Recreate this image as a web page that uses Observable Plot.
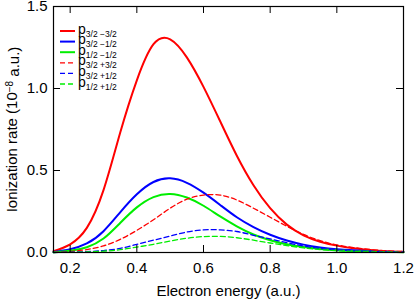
<!DOCTYPE html>
<html>
<head>
<meta charset="utf-8">
<script src="https://cdn.jsdelivr.net/npm/d3@7"></script>
<script src="https://cdn.jsdelivr.net/npm/@observablehq/plot@0.6"></script>
<style>
  html, body { margin: 0; padding: 0; background: #fff; }
  #chart { position: relative; width: 415px; height: 299px; }
</style>
</head>
<body>
<div id="chart"></div>
<script>
// Electron energy (a.u.)
const energy = [0.15, 0.2, 0.25, 0.3, 0.35, 0.4, 0.45, 0.5, 0.55, 0.6, 0.65, 0.7, 0.75, 0.8, 0.85, 0.9, 0.95, 1.0, 1.05, 1.1, 1.15, 1.2];
// Ionization rates (1e-8 a.u.)
const p32m32 = [0.008, 0.05, 0.15, 0.38, 0.73, 1.05, 1.27, 1.30, 1.19, 1.01, 0.80, 0.59, 0.41, 0.27, 0.17, 0.105, 0.066, 0.042, 0.026, 0.015, 0.008, 0.004];
const p32m12 = [0.003, 0.02, 0.055, 0.13, 0.245, 0.355, 0.43, 0.452, 0.425, 0.365, 0.29, 0.215, 0.155, 0.108, 0.073, 0.048, 0.031, 0.02, 0.013, 0.008, 0.005, 0.003];
const p12m12 = [0.002, 0.01, 0.032, 0.085, 0.18, 0.275, 0.338, 0.357, 0.335, 0.285, 0.22, 0.16, 0.11, 0.075, 0.05, 0.033, 0.021, 0.013, 0.008, 0.005, 0.003, 0.002];
const p32p32 = [0.001, 0.006, 0.018, 0.04, 0.08, 0.135, 0.20, 0.27, 0.325, 0.35, 0.35, 0.32, 0.27, 0.215, 0.16, 0.11, 0.072, 0.046, 0.03, 0.018, 0.01, 0.006];
const p32p12 = [0.0, 0.002, 0.005, 0.012, 0.025, 0.05, 0.075, 0.10, 0.125, 0.138, 0.138, 0.128, 0.105, 0.083, 0.06, 0.04, 0.025, 0.016, 0.01, 0.006, 0.004, 0.002];
const p12p12 = [0.0, 0.001, 0.003, 0.008, 0.017, 0.033, 0.05, 0.07, 0.087, 0.097, 0.098, 0.09, 0.075, 0.058, 0.042, 0.028, 0.018, 0.011, 0.007, 0.004, 0.002, 0.001];

const xTicks = [0.2, 0.4, 0.6, 0.8, 1.0, 1.2];
const yTicks = [0, 0.5, 1.0, 1.5];

const series = [
  {sub: "3/2 \u22123/2", values: p32m32, color: "#ff0000", dash: null},
  {sub: "3/2 \u22121/2", values: p32m12, color: "#0000ff", dash: null},
  {sub: "1/2 \u22121/2", values: p12m12, color: "#00ee00", dash: null},
  {sub: "3/2 +3/2", values: p32p32, color: "#ff0000", dash: "5,3"},
  {sub: "3/2 +1/2", values: p32p12, color: "#0000ff", dash: "5,3"},
  {sub: "1/2 +1/2", values: p12p12, color: "#00ee00", dash: "5,3"}
];

const W = 415, H = 299;
const mt = 6, mr = 12, mb = 47, ml = 53;
const innerH = H - mt - mb, innerW = W - ml - mr;
const tk = 7;
const FONT = "'Liberation Sans', Arial, sans-serif";

const lineMarks = series.map(s => Plot.line(
  energy.map((x, i) => ({x, y: s.values[i]})),
  {x: "x", y: "y", stroke: s.color, strokeWidth: s.dash ? 1.3 : 2, strokeDasharray: s.dash, curve: "natural"}
));

const chart = Plot.plot({
  width: W, height: H,
  marginTop: mt, marginRight: mr, marginBottom: mb, marginLeft: ml,
  style: {fontFamily: FONT, fontSize: "15px", color: "#000", background: "#fff", overflow: "visible"},
  x: {domain: [0.15, 1.2]},
  y: {domain: [0, 1.5]},
  marks: [
    ...lineMarks,
    Plot.frame({stroke: "#000", strokeWidth: 1.2}),
    Plot.ruleX(xTicks, {x: d => d, insetTop: innerH - tk, stroke: "#000"}),
    Plot.ruleX(xTicks, {x: d => d, insetBottom: innerH - tk, stroke: "#000"}),
    Plot.ruleY(yTicks.slice(1, 3), {y: d => d, insetRight: innerW - tk, stroke: "#000"}),
    Plot.ruleY(yTicks.slice(1, 3), {y: d => d, insetLeft: innerW - tk, stroke: "#000"}),
    Plot.axisX(xTicks, {tickSize: 0, tickPadding: 10, tickFormat: d3.format(".1f"), fontSize: 15,
      label: "Electron energy (a.u.)", labelAnchor: "center", labelOffset: 43, labelArrow: "none"}),
    Plot.axisY(yTicks, {tickSize: 0, tickPadding: 6, tickFormat: d3.format(".1f"), fontSize: 15,
      label: "Ionization rate (10-8 a.u.)", labelAnchor: "center", labelOffset: 47, labelArrow: "none"})
  ]
});

document.getElementById("chart").appendChild(chart);

// superscript in y label
const svg = d3.select(chart);
svg.selectAll("text").each(function() {
  const t = d3.select(this);
  if (t.text().startsWith("Ionization")) {
    t.text(null);
    t.append("tspan").text("Ionization rate (10");
    t.append("tspan").attr("dy", "-0.45em").attr("font-size", "10px").text("\u22128");
    t.append("tspan").attr("dy", "0.45em").text(" a.u.)");
  }
});

// legend inside plot (top-left)
const lg = svg.append("g").attr("font-family", FONT).attr("text-anchor", "start");
series.forEach((s, i) => {
  const y = 31 + i * 10.6;
  lg.append("line").attr("x1", 60).attr("x2", 75).attr("y1", y).attr("y2", y)
    .attr("stroke", s.color).attr("stroke-width", s.dash ? 1.3 : 2)
    .attr("stroke-dasharray", s.dash);
  const t = lg.append("text").attr("x", 78).attr("y", y + 2.5)
    .attr("text-anchor", "start").style("font-size", "14px");
  t.append("tspan").text("p");
  t.append("tspan").attr("dy", 3).style("font-size", "8.5px").text(s.sub);
});
</script>
</body>
</html>
